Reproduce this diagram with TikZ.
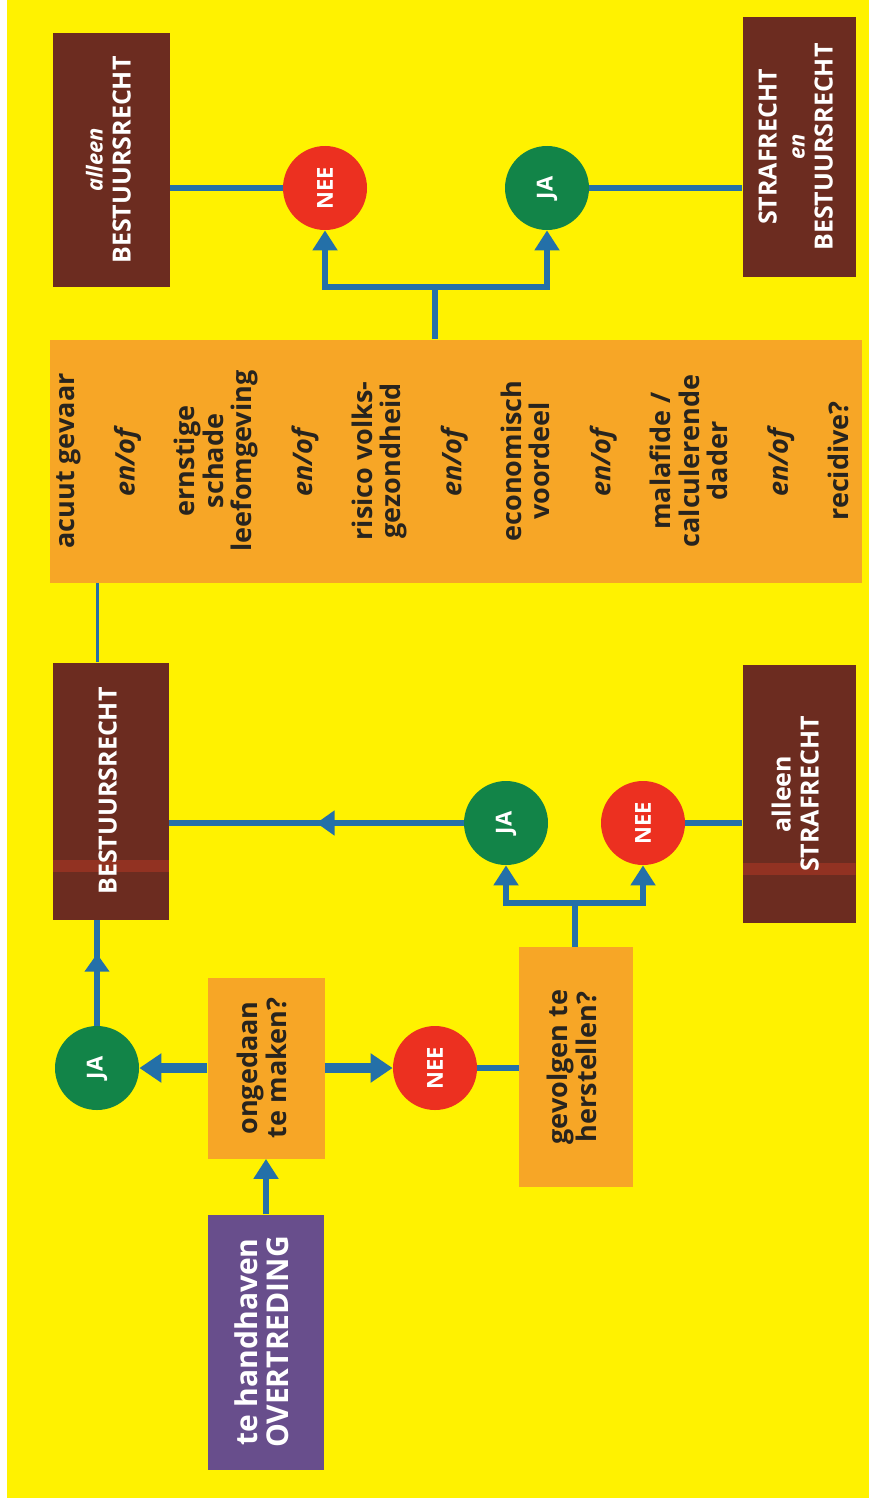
\documentclass[tikz,border=0pt]{standalone}
\usepackage{fontspec}
\setmainfont{Open Sans}
\usetikzlibrary{arrows.meta,decorations.markings,calc}

\definecolor{geel}{RGB}{255,242,0}
\definecolor{oranje}{RGB}{247,166,38}
\definecolor{paars}{RGB}{104,78,140}
\definecolor{bruin}{RGB}{108,44,32}
\definecolor{streep}{RGB}{146,50,34}
\definecolor{groen}{RGB}{18,132,72}
\definecolor{rood}{RGB}{236,48,32}
\definecolor{blauw}{RGB}{36,112,168}
\definecolor{donker}{RGB}{40,36,30}

\newcommand{\rtxt}[1]{\rotatebox{90}{\begin{tabular}{@{}c@{}}#1\end{tabular}}}
\newcommand{\gap}{16pt}

\tikzset{
  vraag/.style={fill=oranje, text=donker, inner sep=0pt, font=\bfseries\fontsize{13.5}{13.5}\selectfont},
  kriterium/.style={vraag, font=\bfseries\fontsize{13.5}{13}\selectfont},
  uitkomst/.style={fill=bruin, text=white, inner sep=0pt, font=\bfseries\fontsize{12.5}{14}\selectfont},
  startvak/.style={fill=paars, text=white, inner sep=0pt, font=\bfseries\fontsize{15}{15}\selectfont},
  streepjes/.style={path picture={\fill[streep] ([yshift=24pt]path picture bounding box.south west) rectangle ([yshift=30pt]path picture bounding box.south east);}},
  jabol/.style={circle, fill=groen, text=white, minimum size=42pt, inner sep=0pt, font=\bfseries\fontsize{11}{12}\selectfont},
  neebol/.style={circle, fill=rood, text=white, minimum size=42pt, inner sep=0pt, font=\bfseries\fontsize{11}{12}\selectfont},
  lijn/.style={draw=blauw, line width=3pt},
  dunlijn/.style={draw=blauw, line width=1.5pt},
  pijl/.style={lijn, -{Triangle[width=12pt,length=10pt]}},
  dikpijl/.style={draw=blauw, line width=5pt, -{Triangle[width=14pt,length=11pt]}},
  middenpijl/.style={lijn, postaction={decorate}, decoration={markings, mark=at position #1 with {\arrow{Triangle[width=12pt,length=9pt]}}}},
}

\begin{document}
\begin{tikzpicture}[x=0.5pt,y=-0.5pt]
    \useasboundingbox (0,0) rectangle (869,1504);
    \fill[white] (0,0) rectangle (869,1504);
    \fill[geel] (7,0) rectangle (869,1498);

    % eerste vraag
    \node[startvak, minimum width=58pt, minimum height=127.5pt] (over) at (266,1342) {\rtxt{te handhaven\\ OVERTREDING}};
    \node[vraag, minimum width=58.5pt, minimum height=90.5pt] (ong) at (266,1068) {\rtxt{ongedaan\\ te maken?}};
    \node[jabol] (ja1) at (97,1068) {\rotatebox{90}{JA}};
    \node[neebol] (nee1) at (435,1068) {\rotatebox{90}{NEE}};
    \node[vraag, minimum width=57pt, minimum height=120pt] (gev) at (576,1067) {\rtxt{gevolgen te\\ herstellen?}};

    % tweede vraag
    \node[jabol] (ja2) at (506,823) {\rotatebox{90}{JA}};
    \node[neebol] (nee3) at (643,823) {\rotatebox{90}{NEE}};
    \node[uitkomst, streepjes, minimum width=58pt, minimum height=128.5pt] (bes) at (111,791) {\rtxt{BESTUURSRECHT}};
    \node[uitkomst, streepjes, minimum width=56.5pt, minimum height=129pt] (altstr) at (799,794) {\rtxt{alleen\\ STRAFRECHT}};

    % criteria
    \node[kriterium, minimum width=406pt, minimum height=121.5pt] (crit) at (456,461) {\rtxt{acuut gevaar\\[\gap] \textit{en/of}\\[\gap] ernstige\\ schade\\ leefomgeving\\[\gap] \textit{en/of}\\[\gap] risico volks-\\ gezondheid\\[\gap] \textit{en/of}\\[\gap] economisch\\ voordeel\\[\gap] \textit{en/of}\\[\gap] malafide /\\ calculerende\\ dader\\[\gap] \textit{en/of}\\[\gap] recidive?}};

    % uitkomsten boven
    \node[neebol] (nee2) at (325,188) {\rotatebox{90}{NEE}};
    \node[jabol] (ja3) at (547,188) {\rotatebox{90}{JA}};
    \node[uitkomst, minimum width=58.5pt, minimum height=127pt] (altbes) at (111,160) {\rtxt{\textit{\fontsize{11}{12}\selectfont alleen}\\ BESTUURSRECHT}};
    \node[uitkomst, minimum width=56.5pt, minimum height=129.5pt] (strbes) at (799,147) {\rtxt{STRAFRECHT\\ \textit{\fontsize{11}{12}\selectfont en}\\ BESTUURSRECHT}};

    \coordinate (vork1) at (435,287);
    \coordinate (vork2) at (575,903);

    % verbindingen
    \draw[pijl] (over) -- (ong);
    \draw[dikpijl] (ong) -- (ja1);
    \draw[dikpijl] (ong) -- (nee1);
    \draw[lijn] (nee1) -- (nee1 -| gev.west);
    \draw[middenpijl=0.68] (ja1) -- (ja1 |- bes.south);
    \draw[lijn] (gev.north -| vork2) -- (vork2);
    \draw[pijl] (vork2) -| (ja2);
    \draw[pijl] (vork2) -| (nee3);
    \draw[middenpijl=0.5] (ja2) -- (ja2 -| bes.east);
    \draw[lijn] (nee3) -- (nee3 -| altstr.west);
    \draw[dunlijn] (bes.north -| ja1) -- (crit.south -| ja1);
    \draw[lijn] (crit.north -| vork1) -- (vork1);
    \draw[pijl] (vork1) -| (nee2);
    \draw[pijl] (vork1) -| (ja3);
    \draw[lijn] (nee2) -- (nee2 -| altbes.east);
    \draw[lijn] (ja3) -- (ja3 -| strbes.west);
\end{tikzpicture}
\end{document}
